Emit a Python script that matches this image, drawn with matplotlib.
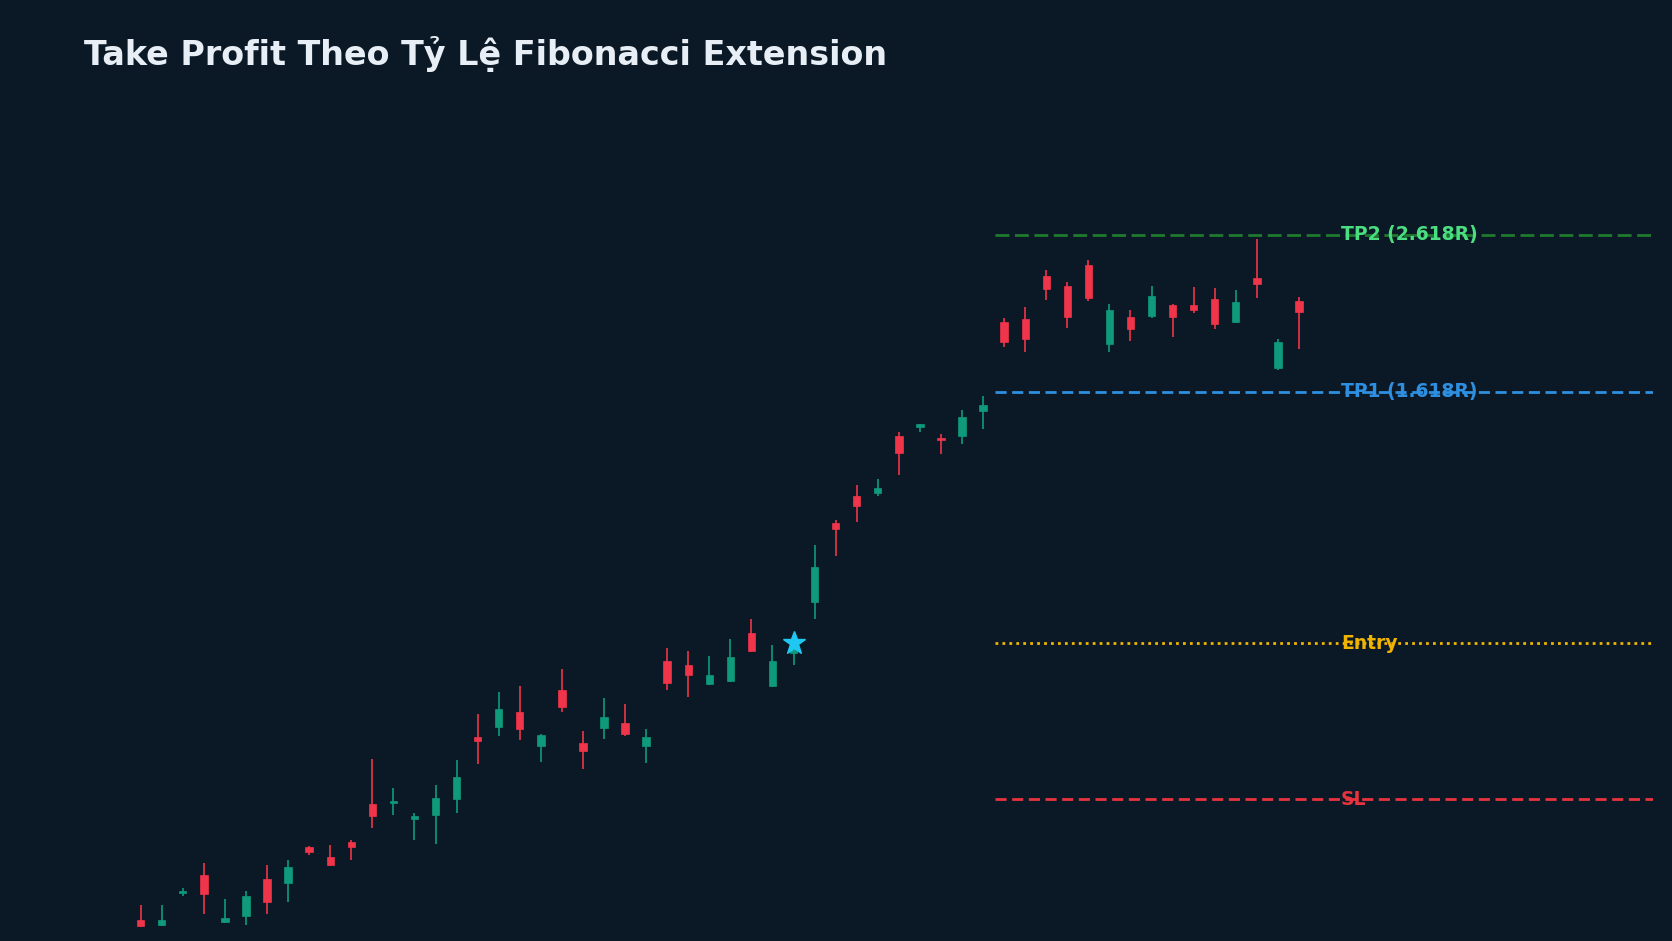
import matplotlib
matplotlib.use("Agg")
import matplotlib.pyplot as plt
from matplotlib.patches import Rectangle

opens  = [13.8,13.3,16.3,18.0,13.6,14.1,17.6,17.2,20.6,19.7,21.1,24.6,24.7,23.2,23.6,25.1,30.9,31.9,33.3,30.1,
          35.3,30.4,31.8,32.2,30.1,38.0,37.7,35.9,36.2,40.7,35.7,38.8,43.6,51.0,53.5,53.8,59.1,60.0,58.9,59.1,
          61.5,69.8,70.1,74.1,73.2,75.2,67.8,70.3,70.4,71.4,71.4,72.0,69.8,73.9,65.5,71.8]
closes = [13.2,13.8,16.4,16.2,14.0,16.0,15.5,18.7,20.1,18.9,20.6,23.5,24.9,23.5,25.2,27.2,30.5,33.5,31.7,31.1,
          33.7,29.6,32.8,31.2,30.9,36.0,36.7,36.7,38.4,39.0,38.0,39.5,46.9,50.4,52.6,54.3,57.5,60.3,58.8,60.9,
          62.0,67.9,68.2,72.9,70.3,72.1,70.9,69.2,72.3,70.3,70.9,69.6,71.7,73.4,67.9,70.8]
highs  = [15.2,15.2,16.8,19.1,15.7,16.5,18.9,19.4,20.7,20.8,21.3,28.9,26.1,23.8,26.4,28.8,33.1,35.1,35.7,31.2,
          37.3,31.5,34.6,34.0,31.7,39.3,39.0,38.5,40.1,42.0,39.5,40.2,48.9,51.3,54.5,55.1,59.5,60.3,59.3,61.6,
          62.9,70.2,71.2,74.7,73.6,75.6,71.5,70.9,73.2,71.5,73.1,73.0,72.8,77.6,68.2,72.2]
lows   = [13.1,13.2,16.0,14.3,13.5,13.3,14.3,15.5,19.9,18.8,19.4,22.4,23.6,21.3,20.9,23.8,28.4,31.0,30.6,28.6,
          33.3,27.9,30.7,31.0,28.5,35.3,34.7,35.8,36.1,38.9,35.6,37.7,42.0,47.9,51.1,53.5,55.5,59.5,57.4,58.4,
          59.8,67.5,67.0,71.9,69.3,71.8,67.0,68.0,70.2,68.4,70.7,69.2,69.7,72.1,65.3,67.3]

entry_idx = 31
level_names = ["TP2 (2.618R)", "TP1 (1.618R)", "Entry", "SL"]
level_values = [78.0, 63.3, 39.7, 25.1]
level_colors = ["#1f7a2e", "#2e8fe0", "#f0b400", "#e8333f"]
label_colors = ["#4ade80", "#2e8fe0", "#f0b400", "#e8333f"]
level_styles = [(0, (5, 2)), (0, (4, 2)), (0, (1, 1.5)), (0, (4, 2))]

BG = "#0b1826"
GREEN = "#0e9a7b"
RED = "#f0344a"

fig = plt.figure(figsize=(16.72, 9.41), dpi=100, facecolor=BG)
ax = fig.add_axes([0, 0, 0.9885, 1])
ax.set_facecolor(BG)
for s in ax.spines.values():
    s.set_visible(False)
ax.set_xticks([]); ax.set_yticks([])

w = 0.35
for i, (o, c, h, l) in enumerate(zip(opens, closes, highs, lows)):
    col = GREEN if c >= o else RED
    ax.vlines(i, l, h, color=col, lw=1.2, zorder=2)
    lo_, hi_ = min(o, c), max(o, c)
    ax.add_patch(Rectangle((i - w / 2, lo_), w, max(hi_ - lo_, 0.15), facecolor=col, edgecolor=col, lw=0.5, zorder=3))

x0, x1 = 40.56, 71.8
for name, v, lc, tc, ls in zip(level_names, level_values, level_colors, label_colors, level_styles):
    ax.hlines(v, x0, x1, colors=lc, linestyles=[ls], lw=2, zorder=1)
    ax.text(57.0, v, name, color=tc, fontsize=13.5, fontweight="bold", va="center", ha="left", zorder=4)

ax.plot(entry_idx, level_values[2], marker="*", color="#1ec8f0", markersize=17, zorder=5, linestyle="none")

ax.set_xlim(-6.68, 71.8)
ax.set_ylim(11.8, 100)

fig.text(0.05, 0.943, "Take Profit Theo Tỷ Lệ Fibonacci Extension", color="#e8eef5",
         fontsize=24, fontweight="bold", va="center", ha="left")

fig.savefig("out.png", dpi=100, facecolor=BG)
